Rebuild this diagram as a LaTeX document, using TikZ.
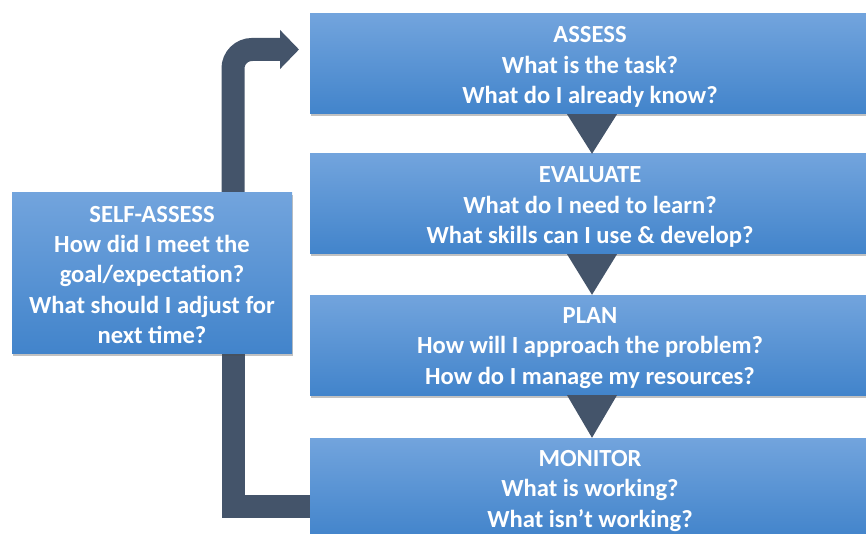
\documentclass[tikz,border=0pt]{standalone}
\usepackage{fontspec}
\setmainfont{Carlito}
\usetikzlibrary{arrows.meta,shadows}
\definecolor{boxtop}{RGB}{114,164,221}
\definecolor{boxbot}{RGB}{66,132,203}
\definecolor{slate}{RGB}{68,84,106}
\tikzset{
  stagebox/.style={rectangle, top color=boxtop, bottom color=boxbot, draw=none,
    inner sep=0pt,
    drop shadow={shadow xshift=1pt, shadow yshift=-2.5pt, opacity=0.35, fill=black!70}},
  stagetext/.style={text=white, align=center, inner sep=0pt,
    font=\fontsize{24.6}{30.4}\selectfont\bfseries},
  wide/.style={minimum width=560pt, minimum height=100pt},
  loopline/.style={draw=slate, line width=23pt},
  pointer/.style={fill=slate}
}
\begin{document}
\begin{tikzpicture}[x=1pt,y=-1pt]
  \useasboundingbox (0,0) rectangle (866,534);
  \clip (0,0) rectangle (866,534);

  % feedback loop: from MONITOR back up to ASSESS
  \coordinate (loopturn) at (233,506);
  \coordinate (looptop) at (233,49.5);
  \coordinate (looptip) at (299,49.5);
  \coordinate (loopstart) at (330,506);
  \draw[loopline, line join=miter] (loopstart) -- (loopturn) -- (233,300);
  \draw[loopline, rounded corners=19pt, -{Triangle[length=19pt,width=38pt]}]
    (233,310) -- (looptop) -- (looptip);

  % stages
  \node[stagebox, wide] (assess) at (590,64) {};
  \node[stagebox, wide] (evaluate) at (590,204) {};
  \node[stagebox, wide] (plan) at (590,345) {};
  \node[stagebox, wide] (monitor) at (590,488) {};
  \node[stagebox, minimum width=280pt, minimum height=160pt] (self) at (152,273) {};

  \node[stagetext] (assesstext) at ([yshift=-3pt]assess.center)
    {ASSESS\\What is the task?\\What do I already know?};
  \node[stagetext] (evaluatetext) at ([yshift=-3pt]evaluate.center)
    {EVALUATE\\What do I need to learn?\\What skills can I use \& develop?};
  \node[stagetext] (plantext) at ([yshift=-3pt]plan.center)
    {PLAN\\How will I approach the problem?\\How do I manage my resources?};
  \node[stagetext] (monitortext) at ([yshift=-3pt]monitor.center)
    {MONITOR\\What is working?\\What isn’t working?};
  \node[stagetext] (selftext) at ([yshift=-2pt]self.center)
    {SELF-ASSESS\\How did I meet the\\goal/expectation?\\What should I adjust for\\next time?};

  % downward pointers between stages
  \foreach \a/\b in {assess/evaluate, evaluate/plan, plan/monitor}{
    \fill[pointer] ([xshift=-23pt]\a.south) -- ([xshift=27pt]\a.south) -- ([xshift=2pt]\b.north) -- cycle;
  }
\end{tikzpicture}
\end{document}
